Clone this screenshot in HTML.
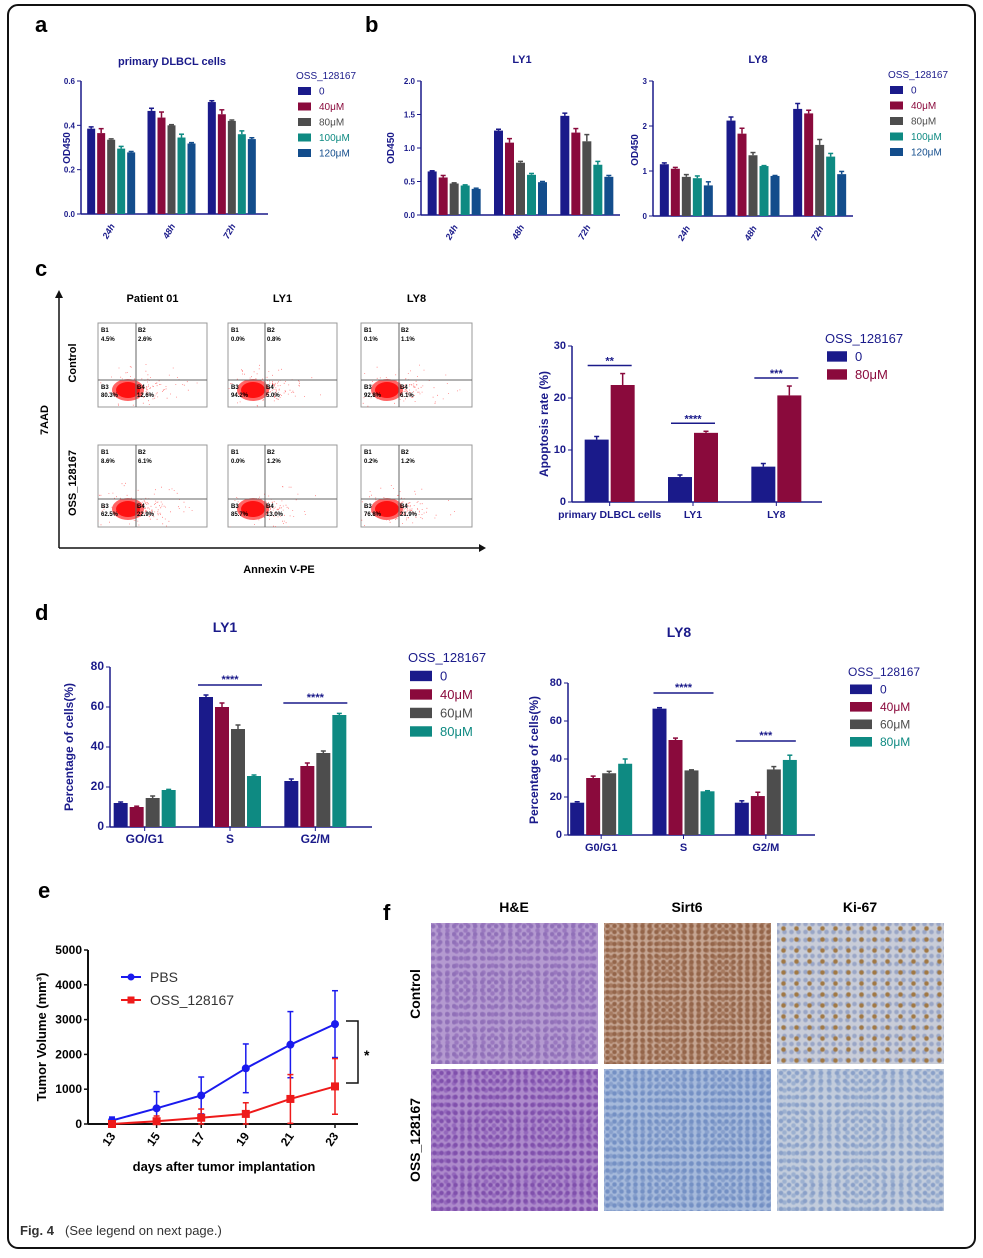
<!DOCTYPE html>
<html><head><meta charset="utf-8"><style>
body{margin:0;background:#fff;font-family:"Liberation Sans",Arial,sans-serif}
#root{position:relative;width:983px;height:1258px;overflow:hidden}
svg text{font-family:"Liberation Sans",Arial,sans-serif}
.img{position:absolute}
</style></head><body>
<div id="root">
<svg id="s" width="983" height="1258"></svg>
<div class="img" style="left:431px;top:923px;width:167px;height:141px;background:radial-gradient(circle at 30% 40%,#9070b8 1.5px,transparent 3px) 0 0/7px 8px,radial-gradient(circle,#9a78bf 1.5px,transparent 3px) 3px 4px/9px 7px,#b49ad0"></div>
<div class="img" style="left:604px;top:923px;width:167px;height:141px;background:radial-gradient(circle,#94654a 1.5px,transparent 3px) 0 0/7px 6px,radial-gradient(circle,#a67a60 1.5px,transparent 3px) 3px 3px/8px 7px,#c5a592"></div>
<div class="img" style="left:777px;top:923px;width:167px;height:141px;background:radial-gradient(circle,#a07844 1.5px,transparent 3px) 0 0/13px 11px,radial-gradient(circle,#9aa6c6 1.5px,transparent 3px) 4px 5px/7px 8px,#c8ccd8"></div>
<div class="img" style="left:431px;top:1069px;width:167px;height:142px;background:radial-gradient(circle,#8050ac 1.5px,transparent 3px) 0 0/7px 8px,radial-gradient(circle,#9468bc 1.5px,transparent 3px) 3px 4px/8px 7px,#ad8acb"></div>
<div class="img" style="left:604px;top:1069px;width:167px;height:142px;background:radial-gradient(circle,#7490c4 1.5px,transparent 3px) 0 0/7px 7px,radial-gradient(circle,#88a0cc 1.5px,transparent 3px) 3px 3px/8px 8px,#a6badb"></div>
<div class="img" style="left:777px;top:1069px;width:167px;height:142px;background:radial-gradient(circle,#8aa0c8 1.5px,transparent 3px) 0 0/8px 8px,radial-gradient(circle,#9cb0d0 1.5px,transparent 3px) 3px 4px/9px 7px,#c2ccdc"></div>
</div>
<script>
// ---- data ----
const aGroups=["24h","48h","72h"];
const aVals=[[0.385,0.465,0.505],[0.365,0.435,0.45],[0.335,0.4,0.42],[0.295,0.345,0.36],[0.278,0.318,0.338]];
const aErr=[[0.008,0.012,0.006],[0.02,0.025,0.02],[0.004,0.003,0.004],[0.01,0.015,0.015],[0.004,0.004,0.006]];
const ly1Vals=[[0.65,1.26,1.48],[0.56,1.08,1.23],[0.47,0.78,1.1],[0.44,0.6,0.75],[0.39,0.49,0.57]];
const ly1Err=[[0.01,0.02,0.04],[0.03,0.06,0.06],[0.01,0.02,0.1],[0.01,0.02,0.05],[0.01,0.01,0.02]];
const ly8Vals=[[1.15,2.12,2.38],[1.05,1.83,2.28],[0.87,1.35,1.58],[0.84,1.11,1.32],[0.68,0.89,0.93]];
const ly8Err=[[0.03,0.08,0.12],[0.03,0.12,0.07],[0.05,0.06,0.12],[0.05,0.01,0.07],[0.08,0.01,0.06]];
const apGroups=["primary DLBCL cells","LY1","LY8"];
const apVals=[[12,4.8,6.8],[22.5,13.3,20.5]];
const apErr=[[0.6,0.4,0.6],[2.2,0.3,1.8]];
const apSig=["**","****","***"];
const dGroups1=["GO/G1","S","G2/M"];
const dGroups2=["G0/G1","S","G2/M"];
const d1Vals=[[12,65,23],[10,60,30.5],[14.5,49,37],[18.5,25.5,56]];
const d1Err=[[0.5,1,1],[0.4,2,1.5],[1,2,1],[0.3,0.5,0.8]];
const d2Vals=[[17,66.5,17],[30,50,20.5],[32.5,34,34.5],[37.5,23,39.5]];
const d2Err=[[0.5,0.5,1],[1,1,2],[1,0.3,1.5],[2.5,0.3,2.5]];
const eDays=[13,15,17,19,21,23];
const pbs=[100,450,820,1600,2280,2870];
const pbsErr=[100,480,530,700,950,960];
const oss=[0,80,180,290,720,1080];
const ossErr=[10,150,250,320,700,800];
const flowPct=[["4.5%","2.6%","80.3%","12.6%"],["0.0%","0.8%","94.2%","5.0%"],["0.1%","1.1%","92.8%","6.1%"],["8.6%","6.1%","62.5%","22.9%"],["0.0%","1.2%","85.7%","13.0%"],["0.2%","1.2%","76.8%","21.9%"]];

const NS="http://www.w3.org/2000/svg";
const S=document.getElementById('s');
function el(tag,attrs,parent,txt){const e=document.createElementNS(NS,tag);for(const k in attrs)e.setAttribute(k,attrs[k]);if(txt!==undefined)e.textContent=txt;(parent||S).appendChild(e);return e;}
function txt(x,y,s,o,name){o=o||{};const t=el('text',Object.assign({x:x,y:y,'font-size':o.fs||11,fill:o.fill||'#000','font-weight':o.fw||'normal','text-anchor':o.anchor||'start'},o.extra||{}),S,s);

return t;}
function line(x1,y1,x2,y2,c,w,name){const l=el('line',{x1:x1,y1:y1,x2:x2,y2:y2,stroke:c,'stroke-width':w||1});

return l;}

const NAVY='#1a1a8a';
const br=el('rect',{x:8,y:5,width:967,height:1243,rx:10,fill:'none',stroke:'#111','stroke-width':2});


txt(20,1235,'Fig. 4',{fs:13,fw:'bold',fill:'#333'},'caption-label');
txt(65,1235,'(See legend on next page.)',{fs:13,fill:'#333'},'caption-text');
[['a',35,32],['b',365,32],['c',35,276],['d',35,620],['e',38,898],['f',383,920]].forEach(p=>txt(p[1],p[2],p[0],{fs:22,fw:'bold'},'panel-label-'+p[0]));

function barChart(c){
  const {x0,x1,yTop,yBot,max,ticks,groups,vals,errs,colors,bw,axisColor,tickFs,rotLabels,labelFs,name}=c;
  const y=v=>yBot-(v/max)*(yBot-yTop);
  const nG=groups.length,band=(x1-x0)/nG,nS=vals.length;
  line(x0,yTop,x0,yBot,axisColor,1.5,name+'-y-axis');
  line(x0,yBot,x1+(c.xExtra||0),yBot,axisColor,1.5,name+'-x-axis');
  ticks.forEach(t=>{line(x0-4,y(t),x0,y(t),axisColor,1,name+'-y-tick');
    txt(x0-6,y(t)+3,c.tickFmt?c.tickFmt(t):String(t),{fs:tickFs||8,fw:'bold',fill:axisColor,anchor:'end'},name+'-y-tick-label');});
  groups.forEach((g,gi)=>{const cx=x0+band*(gi+0.5)+(c.shift||0);
    if(rotLabels){txt(cx+4,yBot+12,g,{fs:labelFs||9,fw:'bold',fill:axisColor,anchor:'end',extra:{transform:`rotate(-60 ${cx+4} ${yBot+12})`,'font-style':'italic'}},name+'-x-label');}
    else{line(cx,yBot,cx,yBot+4,axisColor,1,name+'-x-tick');txt(cx,yBot+16,g,{fs:labelFs||11,fw:'bold',fill:axisColor,anchor:'middle'},name+'-x-label');}
    for(let s=0;s<nS;s++){const bx=cx-(nS*bw)/2+s*bw+1;const v=vals[s][gi],e=errs[s][gi];
      const r=el('rect',{x:bx,y:y(v),width:bw-2,height:yBot-y(v),fill:colors[s]});
      
      
      const m=bx+(bw-2)/2;line(m,y(v),m,y(v+e),colors[s],1.5,name+'-error-bar');line(m-2.5,y(v+e),m+2.5,y(v+e),colors[s],1.5,name+'-error-cap');}
  });
  return {y,band};
}
function legend(x,y,title,labels,colors,txtColors,fs,gap,sw,name){
  txt(x,y,title,{fs:fs,fill:txtColors?txtColors[0]:NAVY,extra:{}},name+'-title');
  labels.forEach((l,i)=>{const yy=y+gap*(i+1);const r=el('rect',{x:x+2,y:yy-fs*0.75,width:sw,height:fs*0.8,fill:colors[i]});
    
    
    txt(x+sw+10,yy,l,{fs:fs,fill:txtColors?txtColors[i+1]:colors[i]},name+'-entry');});
}
const C5=['#1a1a8a','#8a0a3c','#4d4d4d','#0e8a82','#134d8c'];
const labs5=['0','40μM','80μM','100μM','120μM'];
txt(172,65,'primary DLBCL cells',{fs:11,fw:'bold',fill:NAVY,anchor:'middle'},'panel-a-title');
barChart({name:'panel-a',x0:81,x1:262,xExtra:6,yTop:81,yBot:214,max:0.6,ticks:[0,0.2,0.4,0.6],tickFmt:t=>t.toFixed(1),groups:aGroups,vals:aVals,errs:aErr,colors:C5,bw:10,axisColor:NAVY,rotLabels:true});
txt(70,148,'OD450',{fs:10,fw:'bold',fill:NAVY,anchor:'middle',extra:{transform:'rotate(-90 70 148)'}},'panel-a-y-title');
legend(296,79,'OSS_128167',labs5,C5,[NAVY,'#1a1a8a','#8a0a3c','#4d4d4d','#0e8a82','#134d8c'],10,15.5,13,'panel-a-legend');
txt(522,63,'LY1',{fs:11,fw:'bold',fill:NAVY,anchor:'middle'},'panel-b-ly1-title');
barChart({name:'panel-b-ly1',x0:421,x1:620,yTop:81,yBot:215,max:2,ticks:[0,0.5,1,1.5,2],tickFmt:t=>t.toFixed(1),groups:aGroups,vals:ly1Vals,errs:ly1Err,colors:C5,bw:11,axisColor:NAVY,rotLabels:true});
txt(394,148,'OD450',{fs:10,fw:'bold',fill:NAVY,anchor:'middle',extra:{transform:'rotate(-90 394 148)'}},'panel-b-ly1-y-title');
txt(758,63,'LY8',{fs:11,fw:'bold',fill:NAVY,anchor:'middle'},'panel-b-ly8-title');
barChart({name:'panel-b-ly8',x0:653,x1:853,yTop:81,yBot:216,max:3,ticks:[0,1,2,3],groups:aGroups,vals:ly8Vals,errs:ly8Err,colors:C5,bw:11,axisColor:NAVY,rotLabels:true});
txt(638,150,'OD450',{fs:10,fw:'bold',fill:NAVY,anchor:'middle',extra:{transform:'rotate(-90 638 150)'}},'panel-b-ly8-y-title');
legend(888,78,'OSS_128167',labs5,C5,[NAVY,'#1a1a8a','#8a0a3c','#4d4d4d','#0e8a82','#134d8c'],10,15.5,13,'panel-b-legend');

// c flow plots
line(59,548,59,296,'#111',1.5,'flow-y-axis');el('polygon',{points:'55,298 63,298 59,290',fill:'#111'});
line(59,548,480,548,'#111',1.5,'flow-x-axis');el('polygon',{points:'479,544 479,552 486,548',fill:'#111'});
txt(279,573,'Annexin V-PE',{fs:11,fw:'bold',anchor:'middle'},'flow-x-title');
txt(48,420,'7AAD',{fs:11,fw:'bold',anchor:'middle',extra:{transform:'rotate(-90 48 420)'}},'flow-y-title');
txt(76,363,'Control',{fs:11,fw:'bold',anchor:'middle',extra:{transform:'rotate(-90 76 363)'}},'flow-row-control');
txt(76,483,'OSS_128167',{fs:11,fw:'bold',anchor:'middle',extra:{transform:'rotate(-90 76 483)'}},'flow-row-treated');
const cols=[[98,207,136,'Patient 01'],[228,337,265,'LY1'],[361,472,399,'LY8']];
const rows=[[323,407,380],[445,527,499]];
cols.forEach((c,ci)=>txt((c[0]+c[1])/2,302,c[3],{fs:11,fw:'bold',anchor:'middle'},'flow-col-title'));
let seed=7;function rnd(){seed=(seed*16807)%2147483647;return seed/2147483647;}
rows.forEach((r,ri)=>cols.forEach((c,ci)=>{
  const g=el('g',{});
  const cid='clip'+ri+ci;const cp=el('clipPath',{id:cid},g);el('rect',{x:c[0],y:r[0],width:c[1]-c[0],height:r[1]-r[0]},cp);
  el('rect',{x:c[0],y:r[0],width:c[1]-c[0],height:r[1]-r[0],fill:'#fff',stroke:'#999','stroke-width':1},g);
  const inner=el('g',{'clip-path':`url(#${cid})`},g);
  const cx=c[2]-(ci==0?8:12),cy=r[2]+10;
  let d='';for(let i=0;i<220;i++){const a=rnd()*6.28,rr=Math.pow(rnd(),1.3)*(i<120?20:45);d+=`M${(cx+10+Math.cos(a)*rr*1.4).toFixed(1)} ${(cy+Math.sin(a)*rr*0.6).toFixed(1)}h0.8`;}
  el('path',{d:d,stroke:'#f66','stroke-width':0.8},inner);
  el('ellipse',{cx:cx,cy:cy,rx:16,ry:11,fill:'#f66'},inner);
  el('ellipse',{cx:cx,cy:cy,rx:12,ry:8,fill:'#f11'},inner);
  el('line',{x1:c[2],y1:r[0],x2:c[2],y2:r[1],stroke:'#666'},g);el('line',{x1:c[0],y1:r[2],x2:c[1],y2:r[2],stroke:'#666'},g);
  const p=flowPct[ri*3+ci];
  el('text',{x:c[0]+3,y:r[0]+9,'font-size':6,'font-weight':'bold'},g,'B1');el('text',{x:c[0]+3,y:r[0]+18,'font-size':6,'font-weight':'bold'},g,p[0]);
  el('text',{x:c[2]+2,y:r[0]+9,'font-size':6,'font-weight':'bold'},g,'B2');el('text',{x:c[2]+2,y:r[0]+18,'font-size':6,'font-weight':'bold'},g,p[1]);
  el('text',{x:c[0]+3,y:r[2]+9,'font-size':6,'font-weight':'bold'},g,'B3');el('text',{x:c[0]+3,y:r[2]+17,'font-size':6,'font-weight':'bold'},g,p[2]);
  el('text',{x:c[2]+1,y:r[2]+9,'font-size':6,'font-weight':'bold'},g,'B4');el('text',{x:c[2]+1,y:r[2]+17,'font-size':6,'font-weight':'bold'},g,p[3]);
}));
const ap=barChart({name:'apoptosis',x0:572,x1:822,yTop:346,yBot:502,max:30,ticks:[0,10,20,30],groups:apGroups,vals:apVals,errs:apErr,colors:['#1a1a8a','#8a0a3c'],bw:26,axisColor:NAVY,tickFs:11,labelFs:10.5,shift:-4});
txt(548,424,'Apoptosis rate (%)',{fs:12,fw:'bold',fill:NAVY,anchor:'middle',extra:{transform:'rotate(-90 548 424)'}},'apoptosis-y-title');
apGroups.forEach((g,gi)=>{const cx=572+ap.band*(gi+0.5)-4;const top=Math.max(apVals[0][gi],apVals[1][gi]+apErr[1][gi]);const yy=ap.y(top)-8;
 line(cx-22,yy,cx+22,yy,NAVY,1.5,'apoptosis-sig-line');txt(cx,yy-1,apSig[gi],{fs:11,fw:'bold',fill:NAVY,anchor:'middle'},'apoptosis-sig-stars');});
legend(825,343,'OSS_128167',['0','80μM'],['#1a1a8a','#8a0a3c'],[NAVY,NAVY,'#8a0a3c'],13,18,20,'apoptosis-legend');

const C4=['#1a1a8a','#8a0a3c','#4d4d4d','#0e8a82'];
const labs4=['0','40μM','60μM','80μM'];
txt(225,632,'LY1',{fs:14,fw:'bold',fill:NAVY,anchor:'middle'},'panel-d-ly1-title');
const d1=barChart({name:'cell-cycle-ly1',x0:110,x1:366,xExtra:6,yTop:667,yBot:827,max:80,ticks:[0,20,40,60,80],groups:dGroups1,vals:d1Vals,errs:d1Err,colors:C4,bw:16,axisColor:NAVY,tickFs:12,labelFs:12,shift:-8});
txt(73,747,'Percentage of cells(%)',{fs:12,fw:'bold',fill:NAVY,anchor:'middle',extra:{transform:'rotate(-90 73 747)'}},'cell-cycle-ly1-y-title');
[[1,'****'],[2,'****']].forEach(s=>{const cx=110+d1.band*(s[0]+0.5)-8;const yy=s[0]==1?685:703;line(cx-32,yy,cx+32,yy,NAVY,1.5,'cell-cycle-sig-line');txt(cx,yy-2,s[1],{fs:11,fw:'bold',fill:NAVY,anchor:'middle'},'cell-cycle-sig-stars');});
legend(408,662,'OSS_128167',labs4,C4,[NAVY,NAVY,'#8a0a3c','#4d4d4d','#0e8a82'],13,18.5,22,'panel-d-ly1-legend');
txt(679,637,'LY8',{fs:14,fw:'bold',fill:NAVY,anchor:'middle'},'panel-d-ly8-title');
const d2=barChart({name:'cell-cycle-ly8',x0:568,x1:815,yTop:683,yBot:835,max:80,ticks:[0,20,40,60,80],groups:dGroups2,vals:d2Vals,errs:d2Err,colors:C4,bw:16,axisColor:NAVY,tickFs:11,labelFs:11,shift:-8});
txt(538,760,'Percentage of cells(%)',{fs:12,fw:'bold',fill:NAVY,anchor:'middle',extra:{transform:'rotate(-90 538 760)'}},'cell-cycle-ly8-y-title');
[[1,'****',693],[2,'***',741]].forEach(s=>{const cx=568+d2.band*(s[0]+0.5)-8;line(cx-30,s[2],cx+30,s[2],NAVY,1.5,'cell-cycle-sig-line');txt(cx,s[2]-2,s[1],{fs:11,fw:'bold',fill:NAVY,anchor:'middle'},'cell-cycle-sig-stars');});
legend(848,676,'OSS_128167',labs4,C4,[NAVY,NAVY,'#8a0a3c','#4d4d4d','#0e8a82'],12,17.5,22,'panel-d-ly8-legend');

const ex=d=>112+(d-13)/(23-13)*(335-112);
const ey=v=>1124-v/5000*(1124-950);
line(88,950,88,1124,'#111',2,'tumor-y-axis');line(88,1124,358,1124,'#111',2,'tumor-x-axis');
[0,1000,2000,3000,4000,5000].forEach(t=>{line(84,ey(t),88,ey(t),'#111',1.5,'tumor-y-tick');txt(82,ey(t)+4,String(t),{fs:12,fw:'bold',anchor:'end'},'tumor-y-tick-label');});
eDays.forEach(d=>{line(ex(d),1124,ex(d),1128,'#111',1.5,'tumor-x-tick');txt(ex(d)+4,1136,String(d),{fs:12,fw:'bold',anchor:'end',extra:{transform:`rotate(-55 ${ex(d)+4} 1136)`}},'tumor-x-tick-label');});
txt(224,1171,'days after tumor implantation',{fs:13,fw:'bold',anchor:'middle'},'tumor-x-title');
txt(46,1037,'Tumor Volume (mm³)',{fs:13,fw:'bold',anchor:'middle',extra:{transform:'rotate(-90 46 1037)'}},'tumor-y-title');
function series(vals,errs,color,marker,name){
  const pl=el('polyline',{points:vals.map((v,i)=>ex(eDays[i])+','+ey(v)).join(' '),fill:'none',stroke:color,'stroke-width':2});
  
  
  vals.forEach((v,i)=>{const x=ex(eDays[i]);line(x,ey(Math.max(0,v-errs[i])),x,ey(v+errs[i]),color,1.5,name+'-error-bar');line(x-3,ey(v+errs[i]),x+3,ey(v+errs[i]),color,1.5,name+'-error-cap');line(x-3,ey(Math.max(0,v-errs[i])),x+3,ey(Math.max(0,v-errs[i])),color,1.5,name+'-error-cap');
   const m=marker=='c'?el('circle',{cx:x,cy:ey(v),r:4,fill:color}):el('rect',{x:x-4,y:ey(v)-4,width:8,height:8,fill:color});
   
   });
}
series(pbs,pbsErr,'#1a1aee','c','pbs');
series(oss,ossErr,'#ee1a1a','s','oss');
line(121,977,141,977,'#1a1aee',2,'legend-pbs-line');el('circle',{cx:131,cy:977,r:3.5,fill:'#1a1aee'});txt(150,982,'PBS',{fs:14,fill:'#333'},'legend-pbs');
line(121,1000,141,1000,'#ee1a1a',2,'legend-oss-line');el('rect',{x:127.5,y:996.5,width:7,height:7,fill:'#ee1a1a'});txt(150,1005,'OSS_128167',{fs:14,fill:'#333'},'legend-oss');
el('polyline',{points:'346,1021 358,1021 358,1083 346,1083',fill:'none',stroke:'#111','stroke-width':1.5});
txt(364,1060,'*',{fs:14,fw:'bold'},'tumor-sig-star');

[['H&E',514],['Sirt6',687],['Ki-67',860]].forEach(c=>txt(c[1],912,c[0],{fs:14,fw:'bold',anchor:'middle'},'ihc-col-title'));
txt(420,994,'Control',{fs:14,fw:'bold',anchor:'middle',extra:{transform:'rotate(-90 420 994)'}},'ihc-row-control');
txt(420,1140,'OSS_128167',{fs:14,fw:'bold',anchor:'middle',extra:{transform:'rotate(-90 420 1140)'}},'ihc-row-treated');
</script>
</body></html>
